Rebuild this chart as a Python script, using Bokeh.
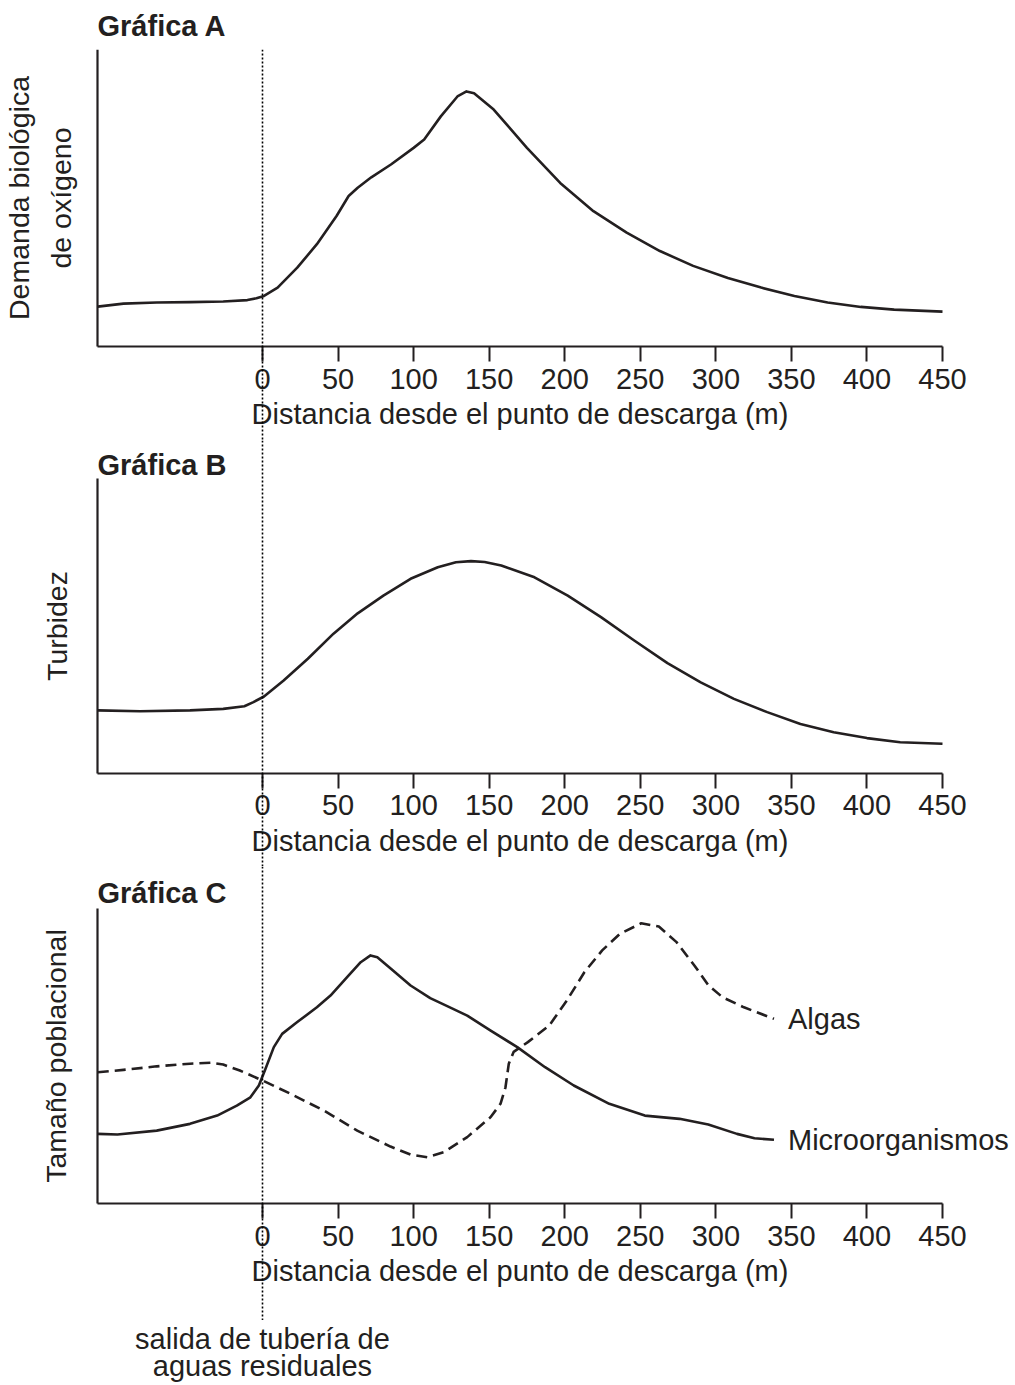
from bokeh.plotting import figure
from bokeh.models import Range1d, LinearAxis, FixedTicker, Span, Label
from bokeh.layouts import column
from bokeh.embed import file_html
from bokeh.resources import INLINE

# ---------------- data ----------------
x_ticks = [0, 50, 100, 150, 200, 250, 300, 350, 400, 450]
x_axis_start = -109.2   # left end of every distance axis (m)

# Gráfica A : demanda biológica de oxígeno (relative units 0-100)
dist_A = [-109, -92, -70, -48, -26, -10, -4, 1, 10, 23, 36, 49, 57, 63, 72, 85,
          100, 107, 118, 129, 135, 140, 153, 175, 197, 219, 241, 263, 285, 308,
          330, 352, 374, 396, 418, 450]
dbo_A = [13.5, 14.5, 14.9, 15.0, 15.2, 15.7, 16.3, 17.1, 19.9, 26.6, 34.5, 44.0,
         50.7, 53.5, 57.0, 61.3, 66.9, 69.7, 77.5, 84.2, 85.9, 85.3, 79.8, 66.9,
         55.1, 45.6, 38.4, 32.2, 27.2, 23.1, 19.9, 17.1, 14.9, 13.4, 12.5, 11.8]

# Gráfica B : turbidez
dist_B = [-109, -81, -48, -26, -12, -6, 1, 14, 30, 47, 63, 80, 98, 116, 128, 138,
          147, 158, 180, 202, 224, 246, 268, 290, 312, 334, 356, 378, 400, 422, 450]
turb_B = [21.4, 21.1, 21.4, 21.9, 22.8, 24.2, 26.1, 31.5, 38.9, 47.4, 54.3, 60.3,
          66.0, 69.9, 71.6, 72.0, 71.7, 70.5, 66.5, 60.3, 53.0, 45.1, 37.4, 30.9,
          25.3, 20.8, 16.8, 14.0, 12.0, 10.6, 10.1]

# Gráfica C : tamaño poblacional
dist_micro = [-109, -96, -70, -48, -30, -17, -8, -2.4, 2, 7.5, 13, 23, 36, 45, 56,
              65, 71.5, 76, 85, 98, 111, 124, 135.5, 151, 168.6, 187, 206, 229.5,
              253, 276, 295, 314, 325.6, 338.5]
micro = [23.6, 23.4, 24.7, 27.0, 29.8, 33.2, 36.0, 40.0, 45.7, 53.0, 57.5, 61.5,
         66.5, 70.5, 76.7, 81.8, 84.1, 83.5, 79.6, 73.9, 69.6, 66.5, 63.7, 58.6,
         53.0, 46.2, 40.0, 33.8, 29.8, 28.7, 26.8, 23.6, 22.1, 21.6]

dist_algas = [-109, -92, -70, -48, -34, -26, -15, 0, 18.5, 40.6, 62.7, 84.7, 98,
              109, 120, 135.5, 151, 157.5, 160.8, 163, 166.2, 175.6, 189.7, 201.4,
              213, 224.8, 236.5, 250.6, 262.3, 274, 285.8, 295.2, 304.5, 318.6, 338.5]
algas = [44.5, 45.3, 46.5, 47.4, 47.7, 47.1, 45.1, 41.7, 37.2, 31.5, 24.7, 19.3,
         16.6, 15.7, 17.4, 22.5, 29.3, 33.8, 39.4, 47.4, 51.4, 54.7, 60.3, 68.8,
         78.4, 85.8, 91.4, 95.0, 93.9, 88.6, 80.7, 73.9, 69.9, 66.5, 62.6]

x_title = "Distancia desde el punto de descarga (m)"

# ---------------- styling ----------------
INK = "#231F20"
FONT = "Liberation Sans"
FS = "29px"
W = 1012
x_range = Range1d(-173.38, 496.33)


def make_fig(height, y_start, y_end, top=0):
    p = figure(width=W, height=height, x_range=x_range,
               y_range=Range1d(y_start, y_end),
               x_axis_location=None, y_axis_location=None,
               toolbar_location=None, output_backend="svg",
               min_border=0, min_border_top=top)
    p.outline_line_color = None
    p.background_fill_color = "white"
    p.border_fill_color = "white"
    p.grid.visible = False
    p.add_layout(Span(location=0, dimension="height", line_color="black",
                      line_width=1.6, line_dash="2 2"))
    return p


def add_axes(p, ylabel, ylabel_standoff):
    xa = LinearAxis(fixed_location=0, bounds=(x_axis_start, 450),
                    ticker=FixedTicker(ticks=x_ticks, minor_ticks=[]))
    xa.axis_line_color = INK
    xa.axis_line_width = 2.2
    xa.major_tick_line_color = INK
    xa.major_tick_line_width = 2
    xa.major_tick_out = 15
    xa.major_tick_in = 0
    xa.minor_tick_out = 0
    xa.minor_tick_in = 0
    xa.major_label_text_font = FONT
    xa.major_label_text_font_size = FS
    xa.major_label_text_color = INK
    xa.major_label_standoff = 7
    xa.axis_label = x_title
    xa.axis_label_text_font = FONT
    xa.axis_label_text_font_size = FS
    xa.axis_label_text_font_style = "normal"
    xa.axis_label_text_color = INK
    xa.axis_label_standoff = 6
    p.add_layout(xa, "below")

    ya = LinearAxis(fixed_location=x_axis_start, bounds=(0, 100),
                    ticker=FixedTicker(ticks=[], minor_ticks=[]))
    ya.axis_line_color = INK
    ya.axis_line_width = 2.2
    ya.major_tick_out = 0
    ya.major_tick_in = 0
    ya.minor_tick_out = 0
    ya.minor_tick_in = 0
    ya.major_label_standoff = 0
    ya.axis_label = ylabel
    ya.axis_label_text_font = FONT
    ya.axis_label_text_font_size = "28.5px"
    ya.axis_label_text_font_style = "normal"
    ya.axis_label_text_color = INK
    ya.axis_label_text_line_height = 1.3
    ya.axis_label_standoff = ylabel_standoff
    p.add_layout(ya, "left")


def panel_label(p, text, y):
    p.add_layout(Label(x=97, y=y, x_units="screen", y_units="screen", text=text,
                       text_font=FONT, text_font_size="29px", text_font_style="bold",
                       text_color=INK, text_baseline="alphabetic"))


# ---- Gráfica A : image rows 0-440, frame rows 48-440 ----
pA = make_fig(440, -31.54, 100, top=48)
pA.title.text = "Gráfica A"
pA.title.text_font = FONT
pA.title.text_font_size = "29px"
pA.title.text_font_style = "bold"
pA.title.text_color = INK
pA.title.align = "left"
pA.title.offset = 97
pA.title.standoff = 15
add_axes(pA, "Demanda biológica\nde oxígeno", 21)
pA.line(dist_A, dbo_A, line_color=INK, line_width=2.6, line_join="round")

# ---- Gráfica B : rows 440-866 ----
pB = make_fig(426, -31.53, 112.88)
panel_label(pB, "Gráfica B", 402)
add_axes(pB, "Turbidez", 25)
pB.line(dist_B, turb_B, line_color=INK, line_width=2.6, line_join="round")

# ---- Gráfica C : rows 866-1320 ----
pC = make_fig(454, -39.66, 114.24)
panel_label(pC, "Gráfica C", 428)
add_axes(pC, "Tamaño poblacional", 26)
pC.line(dist_micro, micro, line_color=INK, line_width=2.6, line_join="round")
pC.line(dist_algas, algas, line_color=INK, line_width=2.6, line_dash="11 6",
        line_join="round")
pC.add_layout(Label(x=dist_algas[-1], y=algas[-1], x_offset=14, text="Algas",
                    text_font=FONT, text_font_size="29px", text_color=INK,
                    text_baseline="middle"))
pC.add_layout(Label(x=dist_micro[-1], y=micro[-1], x_offset=14, text="Microorganismos",
                    text_font=FONT, text_font_size="29px", text_color=INK,
                    text_baseline="middle"))

# ---- annotation below : rows 1320-1385 ----
pD = figure(width=W, height=65, x_range=x_range, y_range=Range1d(0, 1),
            x_axis_location=None, y_axis_location=None,
            toolbar_location=None, output_backend="svg", min_border=0)
pD.outline_line_color = None
pD.grid.visible = False
pD.add_layout(Label(x=0, y=63, y_units="screen",
                    text="salida de tubería de\naguas residuales",
                    text_font=FONT, text_font_size="29px", text_color=INK,
                    text_align="center", text_baseline="top", text_line_height=0.86))

layout = column(pA, pB, pC, pD, spacing=0)
open("out.html", "w").write(file_html(layout, INLINE))
